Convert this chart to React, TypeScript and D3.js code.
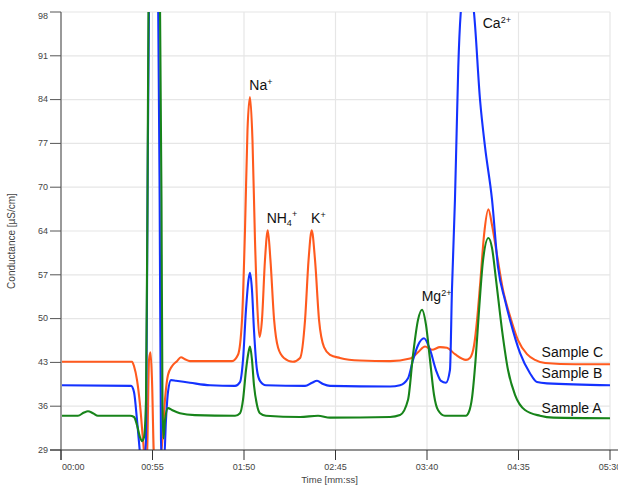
import React from 'react';
import * as d3 from 'd3';

// tick values (10 equal steps between 29 and 98, labels are rounded)
const yTickValues = [29, 35.9, 42.8, 49.7, 56.6, 63.5, 70.4, 77.3, 84.2, 91.1, 98];
const yTickLabels = ['29', '36', '43', '50', '57', '64', '70', '77', '84', '91', '98'];
const xTickSeconds = [0, 55, 110, 165, 220, 275, 330];
const xTickLabels = ['00:00', '00:55', '01:50', '02:45', '03:40', '04:35', '05:30'];

// [time in s, conductance in µS/cm]
const sampleC: [number, number][] = [
  [0, 42.9], [23, 42.9], [42.7, 42.9], [43.9, 42.2], [45.7, 40.0], [47.5, 36.1], [49.3, 30.6],
  [50.5, 27.4], [51.7, 28.2], [52.9, 43.2], [53.8, 44.4], [54.7, 40.0], [55.9, 28.2], [58.3, 26.6],
  [60.7, 29.8], [62.5, 36.9], [64.3, 40.8], [66.7, 42.2], [69.7, 43.0], [72.1, 43.6], [74.5, 43.3],
  [77.5, 43.0], [102.8, 43.0], [106.4, 44.0], [108.8, 49.5], [110.6, 63.7], [112.1, 79.4],
  [113.6, 84.6], [115.1, 77.8], [116.6, 62.1], [118.1, 51.1], [119.3, 46.8], [120.8, 49.5],
  [122.6, 58.9], [124.3, 63.6], [125.9, 58.9], [128.1, 49.5], [130.5, 45.1], [134.0, 43.5],
  [139.4, 42.9], [143.7, 43.5], [146.7, 49.5], [148.8, 58.9], [150.7, 63.6], [152.7, 58.9],
  [155.1, 49.5], [158.1, 45.2], [161.7, 44.0], [167.7, 43.5], [179.7, 43.1], [197.8, 43.0],
  [209.8, 43.4], [214.6, 44.4], [218.8, 45.3], [223.0, 44.8], [227.8, 45.2], [232.0, 45.1],
  [236.8, 44.1], [243.4, 43.2], [245.8, 43.5], [248.3, 45.5], [250.1, 49.5], [251.9, 55.0],
  [254.3, 62.9], [256.9, 66.9], [259.1, 64.4], [262.1, 59.7], [265.7, 54.2], [269.9, 50.1],
  [274.7, 46.3], [280.1, 44.1], [284.9, 43.2], [291.0, 42.7], [309.0, 42.5], [330, 42.5],
];

const sampleB: [number, number][] = [
  [0, 39.2], [42.1, 39.1], [43.9, 38.1], [45.7, 33.7], [47.2, 29.3], [48.1, 26.6], [49.3, 26.6],
  [51.1, 30.6], [52.0, 68.4], [52.9, 99.5], [55.6, 125], [58.4, 99.5], [59.3, 68.4], [60.1, 30.6],
  [60.7, 27.1], [61.9, 27.1], [63.1, 33.7], [64.3, 38.1], [66.1, 40.0], [69.1, 39.9], [77.5, 39.6],
  [89.6, 39.2], [104.6, 39.1], [107.6, 39.7], [109.4, 43.2], [111.2, 51.1], [112.7, 55.8],
  [113.6, 56.9], [114.8, 54.2], [116.0, 47.9], [117.8, 41.6], [119.6, 39.9], [123.2, 39.2],
  [146.7, 39.1], [150.9, 39.6], [153.9, 39.9], [157.5, 39.4], [161.7, 39.1], [197.8, 39.0],
  [203.8, 39.2], [208.6, 40.3], [211.6, 43.2], [214.6, 45.5], [218.2, 46.6], [221.8, 44.8],
  [225.4, 41.6], [228.4, 39.9], [231.4, 39.6], [233.8, 41.6], [235.0, 54.2], [236.8, 68.4],
  [237.8, 78.9], [238.8, 89.3], [240.3, 98.0], [243.4, 104], [248.2, 98.0], [251.9, 84.1],
  [254.9, 76.7], [259.1, 68.4], [262.7, 57.8], [266.9, 52.6], [269.9, 49.5], [275.9, 44.3],
  [281.9, 41.1], [286.1, 39.7], [292.1, 39.5], [330, 39.2],
];

const sampleA: [number, number][] = [
  [0, 34.4], [10.2, 34.4], [13.8, 34.9], [16.2, 35.1], [19.2, 34.8], [22.2, 34.4], [41.5, 34.4],
  [43.9, 34.2], [45.7, 32.9], [47.5, 31.0], [48.7, 30.4], [49.9, 31.0], [51.1, 36.9], [52.0, 68.4],
  [52.6, 99.5], [56.0, 125], [59.5, 99.5], [60.4, 68.4], [61.0, 36.0], [61.6, 30.8], [62.5, 33.7],
  [64.3, 35.6], [66.7, 35.3], [71.5, 34.8], [80.5, 34.5], [104.6, 34.4], [107.6, 34.8],
  [109.4, 36.9], [111.2, 41.6], [112.7, 44.4], [113.6, 45.3], [114.8, 43.2], [116.0, 39.2],
  [117.8, 36.1], [119.6, 34.8], [123.2, 34.4], [143.7, 34.2], [154.5, 34.4], [161.7, 34.1],
  [197.8, 34.2], [203.8, 34.5], [208.6, 36.9], [211.6, 44.0], [214.6, 49.5], [217.0, 51.1],
  [219.4, 48.7], [221.8, 43.2], [224.2, 37.7], [226.6, 35.3], [230.8, 34.4], [243.4, 34.4],
  [245.2, 35.0], [247.1, 37.3], [249.2, 43.2], [251.3, 51.1], [253.7, 58.9], [256.9, 62.4],
  [259.1, 60.8], [261.5, 55.8], [265.1, 47.9], [268.7, 41.6], [272.9, 37.7], [278.9, 35.3],
  [287.9, 34.4], [296, 34.1], [330, 34.0],
];

const seriesNames = ['Sample C', 'Sample B', 'Sample A'];
const seriesColors = ['#ff5a1e', '#1432ff', '#17841a'];
const seriesData = [sampleC, sampleB, sampleA];
// where the series name sits [time, value]
const seriesLabelAt: [number, number][] = [[288.9, 43.7], [288.9, 40.3], [288.9, 34.9]];

// ion labels: main text, subscript, superscript, anchor [time, value]
const ionMain = ['Na', 'NH', 'K', 'Mg', 'Ca'];
const ionSub = ['', '4', '', '', ''];
const ionSup = ['+', '+', '+', '2+', '2+'];
const ionAt: [number, number][] = [[113.2, 85.7], [123.6, 64.8], [150.3, 64.8], [216.8, 52.4], [253.5, 95.5]];

const W = 618;
const H = 486;
const left = 61, right = 610, top = 12, bottom = 450;
const font = '"Liberation Sans", Arial, sans-serif';

export default function App() {
  const x = d3.scaleLinear().domain([0, 330]).range([left, right]);
  const y = d3.scaleLinear().domain([29, 98]).range([bottom, top]);
  const line = d3.line<[number, number]>()
    .x(d => x(d[0]))
    .y(d => y(d[1]))
    .curve(d3.curveMonotoneX);

  return (
    <svg width={W} height={H} style={{ position: 'absolute', left: 0, top: 0, background: '#fff' }}
      fontFamily={font}>
      <defs>
        <clipPath id="plot">
          <rect x={left} y={top} width={right - left} height={bottom - top} />
        </clipPath>
      </defs>

      {/* grid */}
      {yTickValues.map((v, i) => (
        <line key={'gy' + i} x1={left} x2={right} y1={y(v)} y2={y(v)} stroke="#e6e6e6" strokeWidth={1.2} />
      ))}
      {xTickSeconds.slice(1).map((t, i) => (
        <line key={'gx' + i} x1={x(t)} x2={x(t)} y1={top} y2={bottom} stroke="#e6e6e6" strokeWidth={1.2} />
      ))}

      {/* series */}
      <g clipPath="url(#plot)">
        {seriesData.map((d, i) => (
          <path key={seriesNames[i]} d={line(d) || ''} fill="none" stroke={seriesColors[i]} strokeWidth={2.1}
            strokeLinejoin="round" />
        ))}
      </g>

      {/* y axis */}
      <line x1={left} x2={left} y1={top} y2={bottom + 10} stroke="#999" strokeWidth={2} />
      {yTickValues.map((v, i) => (
        <g key={'ty' + i}>
          <line x1={left - 11} x2={left} y1={y(v)} y2={y(v)} stroke="#555" strokeWidth={1} />
          <text x={left - 13} y={y(v) + (i === yTickValues.length - 1 ? 4 : 0)} dy="0.32em" textAnchor="end"
            fontSize={9} fill="#444">{yTickLabels[i]}</text>
        </g>
      ))}
      <text transform={`translate(15,${(top + bottom) / 2 + 10}) rotate(-90)`} textAnchor="middle"
        fontSize={10} fill="#444">Conductance [µS/cm]</text>

      {/* x axis */}
      <line x1={left - 11} x2={W} y1={bottom} y2={bottom} stroke="#333" strokeWidth={1} />
      {xTickSeconds.map((t, i) => (
        <g key={'tx' + i}>
          <line x1={x(t)} x2={x(t)} y1={bottom} y2={bottom + 10} stroke="#333" strokeWidth={1} />
          <text x={i === 0 ? x(t) + 1 : x(t)} y={bottom + 20} textAnchor={i === 0 ? 'start' : 'middle'}
            fontSize={9} fill="#444">{xTickLabels[i]}</text>
        </g>
      ))}
      <text x={(left + right) / 2 - 6} y={H - 3} textAnchor="middle" fontSize={9.5} fill="#444">Time [mm:ss]</text>

      {/* ion labels */}
      {ionMain.map((m, i) => (
        <text key={'ion' + i} x={x(ionAt[i][0])} y={y(ionAt[i][1])} fontSize={14} fill="#111">
          {m}
          {ionSub[i] ? <tspan fontSize={9} dy={3}>{ionSub[i]}</tspan> : null}
          <tspan fontSize={9} dy={ionSub[i] ? -9 : -5}>{ionSup[i]}</tspan>
        </text>
      ))}

      {/* series names */}
      {seriesNames.map((n, i) => (
        <text key={'sn' + i} x={x(seriesLabelAt[i][0])} y={y(seriesLabelAt[i][1])} fontSize={14} fill="#111">{n}</text>
      ))}
    </svg>
  );
}
